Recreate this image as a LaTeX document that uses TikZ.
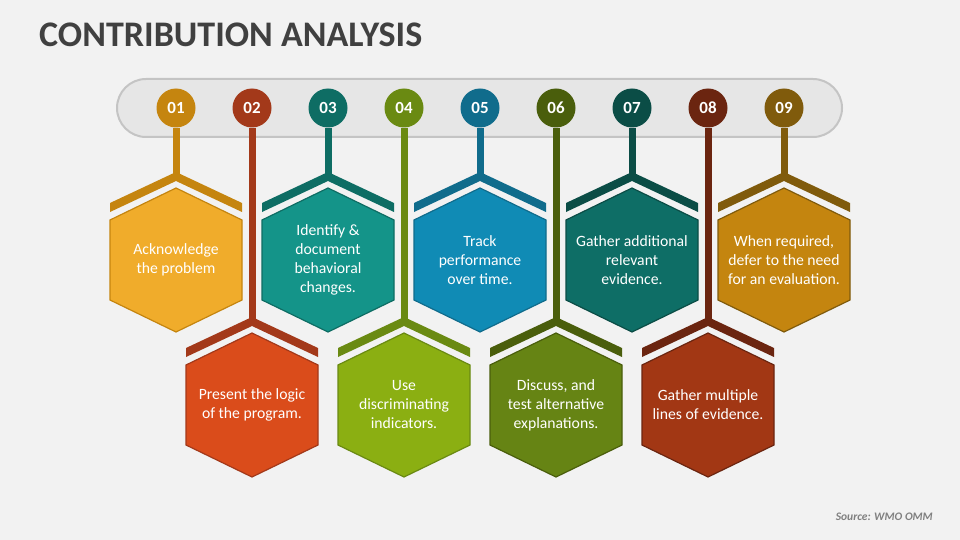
\documentclass[tikz,border=0pt]{standalone}
\usepackage{fontspec}
\setmainfont{Carlito}
\usetikzlibrary{positioning}
\definecolor{bgcol}{HTML}{F2F2F2}
\definecolor{pillfill}{HTML}{E6E6E6}
\definecolor{pillline}{HTML}{C4C4C4}
\definecolor{titlecol}{HTML}{404040}
\definecolor{dkA}{HTML}{C5850F}\definecolor{ltA}{HTML}{F0AC2B}
\definecolor{dkB}{HTML}{A3391A}\definecolor{ltB}{HTML}{DA4C1B}
\definecolor{dkC}{HTML}{0E6D64}\definecolor{ltC}{HTML}{149489}
\definecolor{dkD}{HTML}{6A8A12}\definecolor{ltD}{HTML}{8BAF12}
\definecolor{dkE}{HTML}{106C8C}\definecolor{ltE}{HTML}{108BB5}
\definecolor{dkF}{HTML}{4A5E0C}\definecolor{ltF}{HTML}{668414}
\definecolor{dkG}{HTML}{0B4D46}\definecolor{ltG}{HTML}{0E6E66}
\definecolor{dkH}{HTML}{6B2510}\definecolor{ltH}{HTML}{A23714}
\definecolor{dkI}{HTML}{805B0C}\definecolor{ltI}{HTML}{C4850F}
\tikzset{num/.style={circle,inner sep=0pt,minimum size=39pt,text=white,font=\fontsize{17}{17}\selectfont\bfseries},
  txt/.style={text=white,align=center,font=\fontsize{15.7}{19}\selectfont},
  stem/.style={line width=7pt},
  chev/.pic={\fill (-66,-57) -- (0,-88) -- (66,-57) -- (66,-48) -- (0,-79) -- (-66,-48) -- cycle;},
  hexa/.pic={\filldraw[line width=1.2pt] (0,-72) -- (66,-40) -- (66,40) -- (0,72) -- (-66,40) -- (-66,-40) -- cycle;}}

\begin{document}
\begin{tikzpicture}[x=1pt,y=-1pt]
\fill[bgcol] (0,0) rectangle (960,540);
\useasboundingbox (0,0) rectangle (960,540);
\node[anchor=base west,text=titlecol,font=\fontsize{36}{40}\selectfont\bfseries,inner sep=0pt] (title) at (39,47) {CONTRIBUTION ANALYSIS};
\filldraw[fill=pillfill,draw=pillline,line width=2pt,rounded corners=29pt] (117,79) rectangle (842,137);
% 01
\node[num,fill=dkA] (n1) at (176,108) {01};
\coordinate (a1) at (176,178);
\draw[stem,dkA] (n1) -- (a1);
\pic[dkA] at (176,260) {chev};
\pic[fill=ltA,draw=dkA] at (176,260) {hexa};
\node[txt] (t1) at (176,260) {Acknowledge\\the problem};
% 02
\node[num,fill=dkB] (n2) at (252,108) {02};
\coordinate (a2) at (252,323);
\draw[stem,dkB] (n2) -- (a2);
\pic[dkB] at (252,405) {chev};
\pic[fill=ltB,draw=dkB] at (252,405) {hexa};
\node[txt] (t2) at (252,405) {Present the logic\\of the program.};
% 03
\node[num,fill=dkC] (n3) at (328,108) {03};
\coordinate (a3) at (328,178);
\draw[stem,dkC] (n3) -- (a3);
\pic[dkC] at (328,260) {chev};
\pic[fill=ltC,draw=dkC] at (328,260) {hexa};
\node[txt] (t3) at (328,260) {Identify \&\\document\\behavioral\\changes.};
% 04
\node[num,fill=dkD] (n4) at (404,108) {04};
\coordinate (a4) at (404,323);
\draw[stem,dkD] (n4) -- (a4);
\pic[dkD] at (404,405) {chev};
\pic[fill=ltD,draw=dkD] at (404,405) {hexa};
\node[txt] (t4) at (404,405) {Use\\discriminating\\indicators.};
% 05
\node[num,fill=dkE] (n5) at (480,108) {05};
\coordinate (a5) at (480,178);
\draw[stem,dkE] (n5) -- (a5);
\pic[dkE] at (480,260) {chev};
\pic[fill=ltE,draw=dkE] at (480,260) {hexa};
\node[txt] (t5) at (480,260) {Track\\performance\\over time.};
% 06
\node[num,fill=dkF] (n6) at (556,108) {06};
\coordinate (a6) at (556,323);
\draw[stem,dkF] (n6) -- (a6);
\pic[dkF] at (556,405) {chev};
\pic[fill=ltF,draw=dkF] at (556,405) {hexa};
\node[txt] (t6) at (556,405) {Discuss, and\\test alternative\\explanations.};
% 07
\node[num,fill=dkG] (n7) at (632,108) {07};
\coordinate (a7) at (632,178);
\draw[stem,dkG] (n7) -- (a7);
\pic[dkG] at (632,260) {chev};
\pic[fill=ltG,draw=dkG] at (632,260) {hexa};
\node[txt] (t7) at (632,260) {Gather additional\\relevant\\evidence.};
% 08
\node[num,fill=dkH] (n8) at (708,108) {08};
\coordinate (a8) at (708,323);
\draw[stem,dkH] (n8) -- (a8);
\pic[dkH] at (708,405) {chev};
\pic[fill=ltH,draw=dkH] at (708,405) {hexa};
\node[txt] (t8) at (708,405) {Gather multiple\\lines of evidence.};
% 09
\node[num,fill=dkI] (n9) at (784,108) {09};
\coordinate (a9) at (784,178);
\draw[stem,dkI] (n9) -- (a9);
\pic[dkI] at (784,260) {chev};
\pic[fill=ltI,draw=dkI] at (784,260) {hexa};
\node[txt] (t9) at (784,260) {When required,\\defer to the need\\for an evaluation.};
\node[anchor=base east,text=black!50,font=\fontsize{11.5}{12}\selectfont\bfseries\itshape,inner sep=0pt] (src) at (933,520) {Source: WMO OMM};
\end{tikzpicture}
\end{document}
